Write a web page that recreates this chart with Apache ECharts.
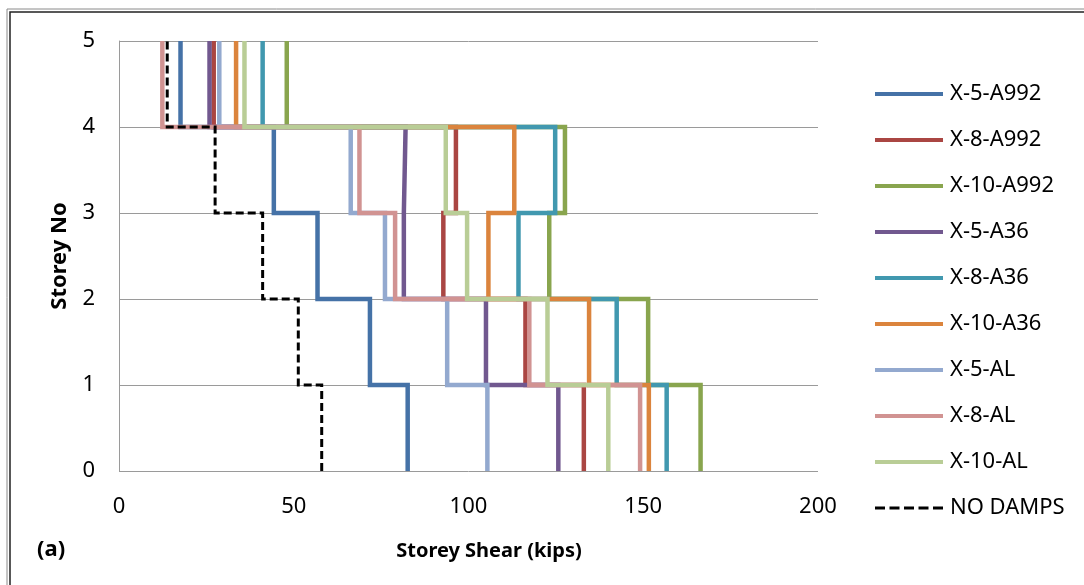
<!DOCTYPE html>
<html>
<head>
<meta charset="utf-8">
<script src="https://cdn.jsdelivr.net/npm/echarts@6.0.0/dist/echarts.min.js"></script>
<style>
  html, body { margin: 0; padding: 0; background: #fff; }
  #main { width: 1084px; height: 585px; }
</style>
</head>
<body>
<div id="main"></div>
<script>
// storey shear per storey band: [0-1, 1-2, 2-3, 3-4, 4-5]
var seriesNames = ['X-5-A992', 'X-8-A992', 'X-10-A992', 'X-5-A36', 'X-8-A36', 'X-10-A36', 'X-5-AL', 'X-8-AL', 'X-10-AL', 'NO DAMPS'];
var x5A992  = [82.6, 71.8, 56.8, 44.3, 17.6];
var x8A992  = [133.0, 116.3, 92.8, 96.4, 27.1];
var x10A992 = [166.4, 151.4, 123.1, 127.6, 48.0];
var x5A36   = [125.7, 105.0, 81.5, 82.0, 25.9];
var x8A36   = [156.7, 142.4, 114.3, 124.8, 41.1];
var x10A36  = [151.6, 134.5, 105.7, 113.1, 33.5];
var x5AL    = [105.4, 93.9, 76.1, 66.3, 28.7];
var x8AL    = [149.1, 117.4, 79.0, 68.8, 12.4];
var x10AL   = [140.0, 122.6, 99.6, 93.5, 35.9];
var noDamps = [58.0, 51.3, 41.1, 27.5, 13.8];
var storeyTicks = [0, 1, 2, 3, 4, 5];
var shearTicks = [0, 50, 100, 150, 200];

var allValues = [x5A992, x8A992, x10A992, x5A36, x8A36, x10A36, x5AL, x8AL, x10AL, noDamps];
var colors = ['#4572A7', '#AA4643', '#89A54E', '#71588F', '#4198AF', '#DB843D', '#93A9CF', '#D19392', '#B9CD96', '#000000'];

// turn band values into a vertical step profile
function stepPoints(v) {
  var pts = [];
  for (var i = 0; i < v.length; i++) {
    pts.push([v[i], storeyTicks[i]]);
    pts.push([v[i], storeyTicks[i + 1]]);
  }
  return pts;
}

// legend swatches: a plain bar, or dashes for NO DAMPS
var solidIcon = 'path://M0,0H68V4H0Z';
var dashIcon = 'path://M0,0h10v3h-10z M14.5,0h10v3h-10z M29,0h10v3h-10z M43.5,0h10v3h-10z M58,0h10v3h-10z';

var font = 'Noto Sans';
var series = seriesNames.map(function (name, i) {
  var dashed = name === 'NO DAMPS';
  return {
    name: name,
    type: 'line',
    data: stepPoints(allValues[i]),
    symbol: 'none',
    color: colors[i],
    itemStyle: { color: colors[i] },
    lineStyle: {
      width: dashed ? 3 : 4.5,
      type: dashed ? [8, 4] : 'solid',
      color: colors[i],
      join: 'miter'
    }
  };
});

var chart = echarts.init(document.getElementById('main'));
chart.setOption({
  animation: false,
  backgroundColor: '#fff',
  textStyle: { fontFamily: font },
  grid: { left: 119, right: 266, top: 41, bottom: 114 },
  xAxis: {
    type: 'value',
    min: 0, max: 200, interval: 50,
    axisLine: { show: false },
    axisTick: { show: false },
    splitLine: { show: false },
    axisLabel: { color: '#000', fontSize: 22, margin: 25, fontFamily: font }
  },
  yAxis: {
    type: 'value',
    min: 0, max: 5, interval: 1,
    name: 'Storey No',
    nameLocation: 'middle',
    nameGap: 48,
    nameTextStyle: { color: '#000', fontSize: 22, fontWeight: 'bold', fontFamily: font },
    axisLine: { show: true, lineStyle: { color: '#9a9a9a', width: 1 } },
    axisTick: { show: false },
    splitLine: { show: true, lineStyle: { color: '#9a9a9a', width: 1 } },
    axisLabel: { color: '#000', fontSize: 22, margin: 24, fontFamily: font }
  },
  legend: {
    orient: 'vertical',
    left: 870,
    top: 78,
    itemWidth: 68,
    itemHeight: 22,
    itemGap: 24,
    textStyle: { color: '#000', fontSize: 22, fontFamily: font, padding: [0, 0, 0, 2] },
    data: seriesNames.map(function (name) {
      return { name: name, icon: name === 'NO DAMPS' ? dashIcon : solidIcon };
    })
  },
  graphic: [
    { type: 'rect', shape: { x: 7, y: 9, width: 2000, height: 2000 }, style: { fill: null, stroke: '#8a8a8a', lineWidth: 1 }, silent: true },
    { type: 'rect', shape: { x: 10, y: 12, width: 2000, height: 2000 }, style: { fill: null, stroke: '#222', lineWidth: 1.5 }, silent: true },
    { type: 'text', x: 489, y: 551, style: { text: 'Storey Shear (kips)', fill: '#000', font: 'bold 20px "Noto Sans"', align: 'center', verticalAlign: 'middle' } },
    { type: 'text', x: 37, y: 550, style: { text: '(a)', fill: '#000', font: 'bold 22px "Noto Sans"', align: 'left', verticalAlign: 'middle' } }
  ],
  series: series
});
</script>
</body>
</html>
